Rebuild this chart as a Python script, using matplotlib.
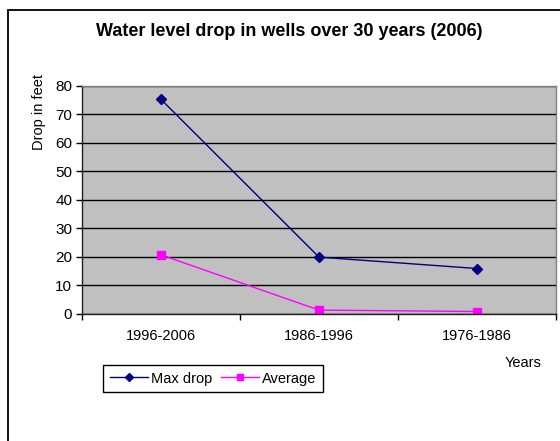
import matplotlib
matplotlib.use("Agg")
import matplotlib.pyplot as plt
from matplotlib.patches import Rectangle
from matplotlib.lines import Line2D

categories = ["1996-2006", "1986-1996", "1976-1986"]
max_drop = [75.2, 19.8, 15.8]
average = [20.6, 1.2, 0.7]
yticks = [0, 10, 20, 30, 40, 50, 60, 70, 80]

plt.rcParams['font.family'] = ['Liberation Sans', 'DejaVu Sans']

W, H = 560, 441
fig = plt.figure(figsize=(W/100, H/100), dpi=100)
fig.patch.set_facecolor('white')

# outer chart border (extends beyond right and bottom)
fig.patches.append(Rectangle((7.5/W, 1 - 500/H), 700/W, (500 - 9.5)/H, transform=fig.transFigure,
                             fill=False, edgecolor='black', linewidth=1.3, clip_on=False))

left, right, top, bottom = 82, 556, 85.7, 313.5
ax = fig.add_axes([left/W, 1 - bottom/H, (right-left)/W, (bottom-top)/H])
ax.set_facecolor('#c0c0c0')

x = list(range(len(categories)))
ax.plot(x, max_drop, color='#000080', marker='D', markersize=5.5, linewidth=1.0, label='Max drop')
ax.plot(x, average, color='#ff00ff', marker='s', markersize=6, linewidth=1.0, label='Average')

ax.set_xlim(-0.5, len(categories) - 0.5)
ax.set_ylim(0, 80)
ax.set_yticks(yticks)
ax.set_yticklabels([str(v) for v in yticks], fontsize=11)
ax.yaxis.grid(True, color='black', linewidth=1.0)
ax.set_axisbelow(True)

ax.set_xticks([i - 0.5 for i in range(len(categories) + 1)])
ax.set_xticklabels([])
ax.set_xticks(x, minor=True)
ax.set_xticklabels(categories, minor=True, fontsize=10.5)
ax.tick_params(axis='x', which='minor', length=0, pad=11)
ax.tick_params(axis='x', which='major', length=4, direction='out', width=1)
ax.tick_params(axis='y', length=4, direction='out', width=1, pad=3)

for s in ['top', 'right']:
    ax.spines[s].set_color('#808080')
    ax.spines[s].set_linewidth(1)
for s in ['left', 'bottom']:
    ax.spines[s].set_color('#202020')
    ax.spines[s].set_linewidth(1)

fig.text(289/W, 1 - 32/H, "Water level drop in wells over 30 years (2006)",
         ha='center', va='center', fontsize=13, fontweight='bold')
fig.text(38.5/W, 1 - 112/H, "Drop in feet", rotation=90, ha='center', va='center', fontsize=10.5)
fig.text(523/W, 1 - 363/H, "Years", ha='center', va='center', fontsize=10.5)

handles = [Line2D([0], [0], color='#000080', marker='D', markersize=4.5, linewidth=1.0),
           Line2D([0], [0], color='#ff00ff', marker='s', markersize=5, linewidth=1.0)]
leg = fig.legend(handles, ['Max drop', 'Average'], loc='center',
                 bbox_to_anchor=(213/W, 1 - 378.5/H), ncol=2, fontsize=10.5,
                 frameon=True, fancybox=False, edgecolor='black', framealpha=1,
                 handlelength=2.6, handletextpad=0.2, columnspacing=0.6,
                 borderpad=0.45, borderaxespad=0)
leg.get_frame().set_linewidth(1)

fig.savefig("out.png", dpi=100)
